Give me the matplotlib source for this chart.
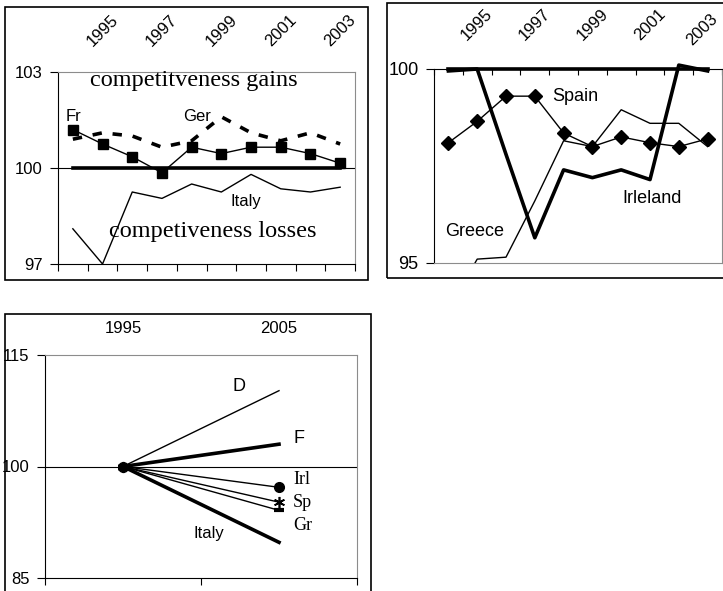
import matplotlib
matplotlib.use("Agg")
import matplotlib.pyplot as plt
from matplotlib.patches import Rectangle

plt.rcParams['font.family'] = ['Liberation Sans', 'DejaVu Sans']

W, H = 723, 591

# ---------------- data ----------------
years_a = [1994, 1995, 1996, 1997, 1998, 1999, 2000, 2001, 2002, 2003]
label_years = [1995, 1997, 1999, 2001, 2003]

base_a = [100] * 10
france = [101.2, 100.75, 100.35, 99.85, 100.65, 100.45, 100.65, 100.65, 100.45, 100.15]
germany = [100.9, 101.1, 101.0, 100.65, 100.85, 101.6, 101.1, 100.85, 101.1, 100.75]
italy_a = [98.1, 97.0, 99.25, 99.05, 99.5, 99.25, 99.8, 99.35, 99.25, 99.4]

spain = [98.1, 98.65, 99.3, 99.3, 98.35, 98.0, 98.25, 98.1, 98.0, 98.2]
ireland = [99.95, 100.0, 97.8, 95.65, 97.4, 97.2, 97.4, 97.15, 100.1, 99.95]
greece = [93.8, 95.1, 95.15, 96.6, 98.15, 98.0, 98.95, 98.6, 98.6, 98.0]

years_c = ['1995', '2005']
d_c = [100, 110.2]
f_c = [100, 103.0]
irl_c = [100, 97.2]
sp_c = [100, 95.2]
gr_c = [100, 94.1]
it_c = [100, 89.8]

fig = plt.figure(figsize=(W / 100, H / 100), dpi=100)
fig.patch.set_facecolor('white')


def px_axes(l, t, r, b):
    return fig.add_axes([l / W, 1 - b / H, (r - l) / W, (b - t) / H])


def box(l, t, r, b):
    fig.patches.append(Rectangle((l / W, 1 - b / H), (r - l) / W, (b - t) / H,
                                 transform=fig.transFigure, fill=False,
                                 edgecolor='black', lw=1.2, clip_on=False))


GRAY = '#8c8c8c'
box(5, 7, 368, 280)
box(387, 3, 730, 278)
box(5, 314, 371, 600)

# ---------------- panel 1 ----------------
ax1 = px_axes(58, 72, 355, 264)
x1 = list(range(len(years_a)))
ax1.axhline(100, color='black', lw=0.8, zorder=1)
ax1.plot(x1, base_a, color='black', lw=2.6, zorder=2)
ax1.plot(x1, germany, color='black', lw=2.6, linestyle=(0, (2.6, 3.0)), zorder=3)
ax1.plot(x1, italy_a, color='black', lw=1.0, zorder=3, clip_on=False)
ax1.plot(x1, france, color='black', lw=1.0, marker='s', markersize=7, zorder=4)
ax1.set_xlim(-0.5, len(years_a) - 0.5)
ax1.set_ylim(97, 103)
ax1.set_yticks([97, 100, 103])
ax1.set_xticks([years_a.index(y) for y in label_years])
ax1.set_xticklabels([str(y) for y in label_years], rotation=45, ha='center')
ax1.set_xticks([i - 0.5 for i in range(len(years_a) + 1)], minor=True)
ax1.tick_params(axis='x', which='major', top=False, bottom=False,
                labeltop=True, labelbottom=False, pad=13, labelsize=12)
ax1.tick_params(axis='x', which='minor', bottom=True, top=False, length=5,
                direction='out', width=0.8)
ax1.tick_params(axis='y', length=6, pad=5, labelsize=12, width=0.8)
ax1.spines['left'].set_color('black')
ax1.spines['bottom'].set_color('black')
for s in ('top', 'right'):
    ax1.spines[s].set_color(GRAY)
ax1.text(4.08, 102.72, 'competitveness gains', family=['Liberation Serif'],
         fontsize=17.5, ha='center', va='center')
ax1.text(4.72, 98.03, 'competiveness losses', family=['Liberation Serif'],
         fontsize=17.5, ha='center', va='center')
ax1.text(-0.23, 101.6, 'Fr', fontsize=12, ha='left', va='center')
ax1.text(3.71, 101.6, 'Ger', fontsize=12, ha='left', va='center')
ax1.text(5.32, 98.94, 'Italy', fontsize=12, ha='left', va='center')

# ---------------- panel 2 ----------------
ax2 = px_axes(434, 69, 722, 263)
x2 = list(range(len(years_a)))
ax2.plot(x2, base_a, color='black', lw=2.6, zorder=2, clip_on=False)
ax2.plot(x2, greece, color='black', lw=1.0, zorder=3)
ax2.plot(x2, ireland, color='black', lw=2.6, zorder=3, clip_on=False)
ax2.plot(x2, spain, color='black', lw=1.0, marker='D', markersize=7, zorder=4)
ax2.set_xlim(-0.5, len(years_a) - 0.5)
ax2.set_ylim(95, 100)
ax2.set_yticks([95, 100])
shown2 = label_years[:-1]
ax2.set_xticks([years_a.index(y) for y in shown2])
ax2.set_xticklabels([str(y) for y in shown2], rotation=45, ha='center')
ax2.set_xticks([i - 0.5 for i in range(len(years_a) + 1)], minor=True)
ax2.tick_params(axis='x', which='major', top=False, bottom=False,
                labeltop=True, labelbottom=False, pad=15, labelsize=12)
ax2.tick_params(axis='x', which='minor', top=True, bottom=False, length=4,
                direction='in', width=0.8)
ax2.tick_params(axis='y', length=6, pad=5, labelsize=13, width=0.8)
ax2.spines['left'].set_color('black')
ax2.spines['top'].set_color('black')
for s in ('bottom', 'right'):
    ax2.spines[s].set_color(GRAY)
last_year = label_years[-1]
ax2.annotate(str(last_year), xy=(years_a.index(last_year), 100),
             xytext=(-4, 15), textcoords='offset points', rotation=45,
             ha='center', va='bottom', fontsize=12, annotation_clip=False)
ax2.text(3.6, 99.28, 'Spain', fontsize=13, ha='left', va='center')
ax2.text(6.03, 96.65, 'Irleland', fontsize=13, ha='left', va='center')
ax2.text(-0.12, 95.8, 'Greece', fontsize=13, ha='left', va='center')

# ---------------- panel 3 ----------------
ax3 = px_axes(45, 355, 357, 578)
x3 = list(range(len(years_c)))
ax3.axhline(100, color='black', lw=0.8, zorder=1)
ax3.plot(x3, d_c, color='black', lw=1.0, zorder=3)
ax3.plot(x3, f_c, color='black', lw=2.6, zorder=3)
ax3.plot(x3, irl_c, color='black', lw=1.0, marker='o', markersize=7, zorder=4)
ax3.plot(x3, sp_c, color='black', lw=1.0, marker=(6, 2, 0), markersize=8,
         markeredgewidth=1.2, zorder=4)
ax3.plot(x3, gr_c, color='black', lw=1.0, marker='_', markersize=7,
         markeredgewidth=3, zorder=4)
ax3.plot(x3, it_c, color='black', lw=2.6, zorder=3)
ax3.set_xlim(-0.5, len(years_c) - 0.5)
ax3.set_ylim(85, 115)
ax3.set_yticks([85, 100, 115])
ax3.set_xticks(x3)
ax3.set_xticklabels(years_c)
ax3.set_xticks([i - 0.5 for i in range(len(years_c) + 1)], minor=True)
ax3.tick_params(axis='x', which='major', top=False, bottom=False,
                labeltop=True, labelbottom=False, pad=10, labelsize=12)
ax3.tick_params(axis='x', which='minor', bottom=True, top=False, length=5,
                direction='out', width=0.8)
ax3.tick_params(axis='y', length=6, pad=5, labelsize=12, width=0.8)
ax3.spines['left'].set_color('black')
ax3.spines['bottom'].set_color('black')
for s in ('top', 'right'):
    ax3.spines[s].set_color(GRAY)
ax3.text(0.70, 110.7, 'D', fontsize=13, ha='left', va='center')
ax3.text(1.096, 103.8, 'F', fontsize=13, ha='left', va='center')
ax3.text(1.09, 98.2, 'Irl', family=['Liberation Serif'], fontsize=13, ha='left', va='center')
ax3.text(1.09, 95.2, 'Sp', family=['Liberation Serif'], fontsize=13, ha='left', va='center')
ax3.text(1.09, 92.1, 'Gr', family=['Liberation Serif'], fontsize=13, ha='left', va='center')
ax3.text(0.455, 91.0, 'Italy', fontsize=12, ha='left', va='center')

fig.savefig('out.png', dpi=100, facecolor='white')
